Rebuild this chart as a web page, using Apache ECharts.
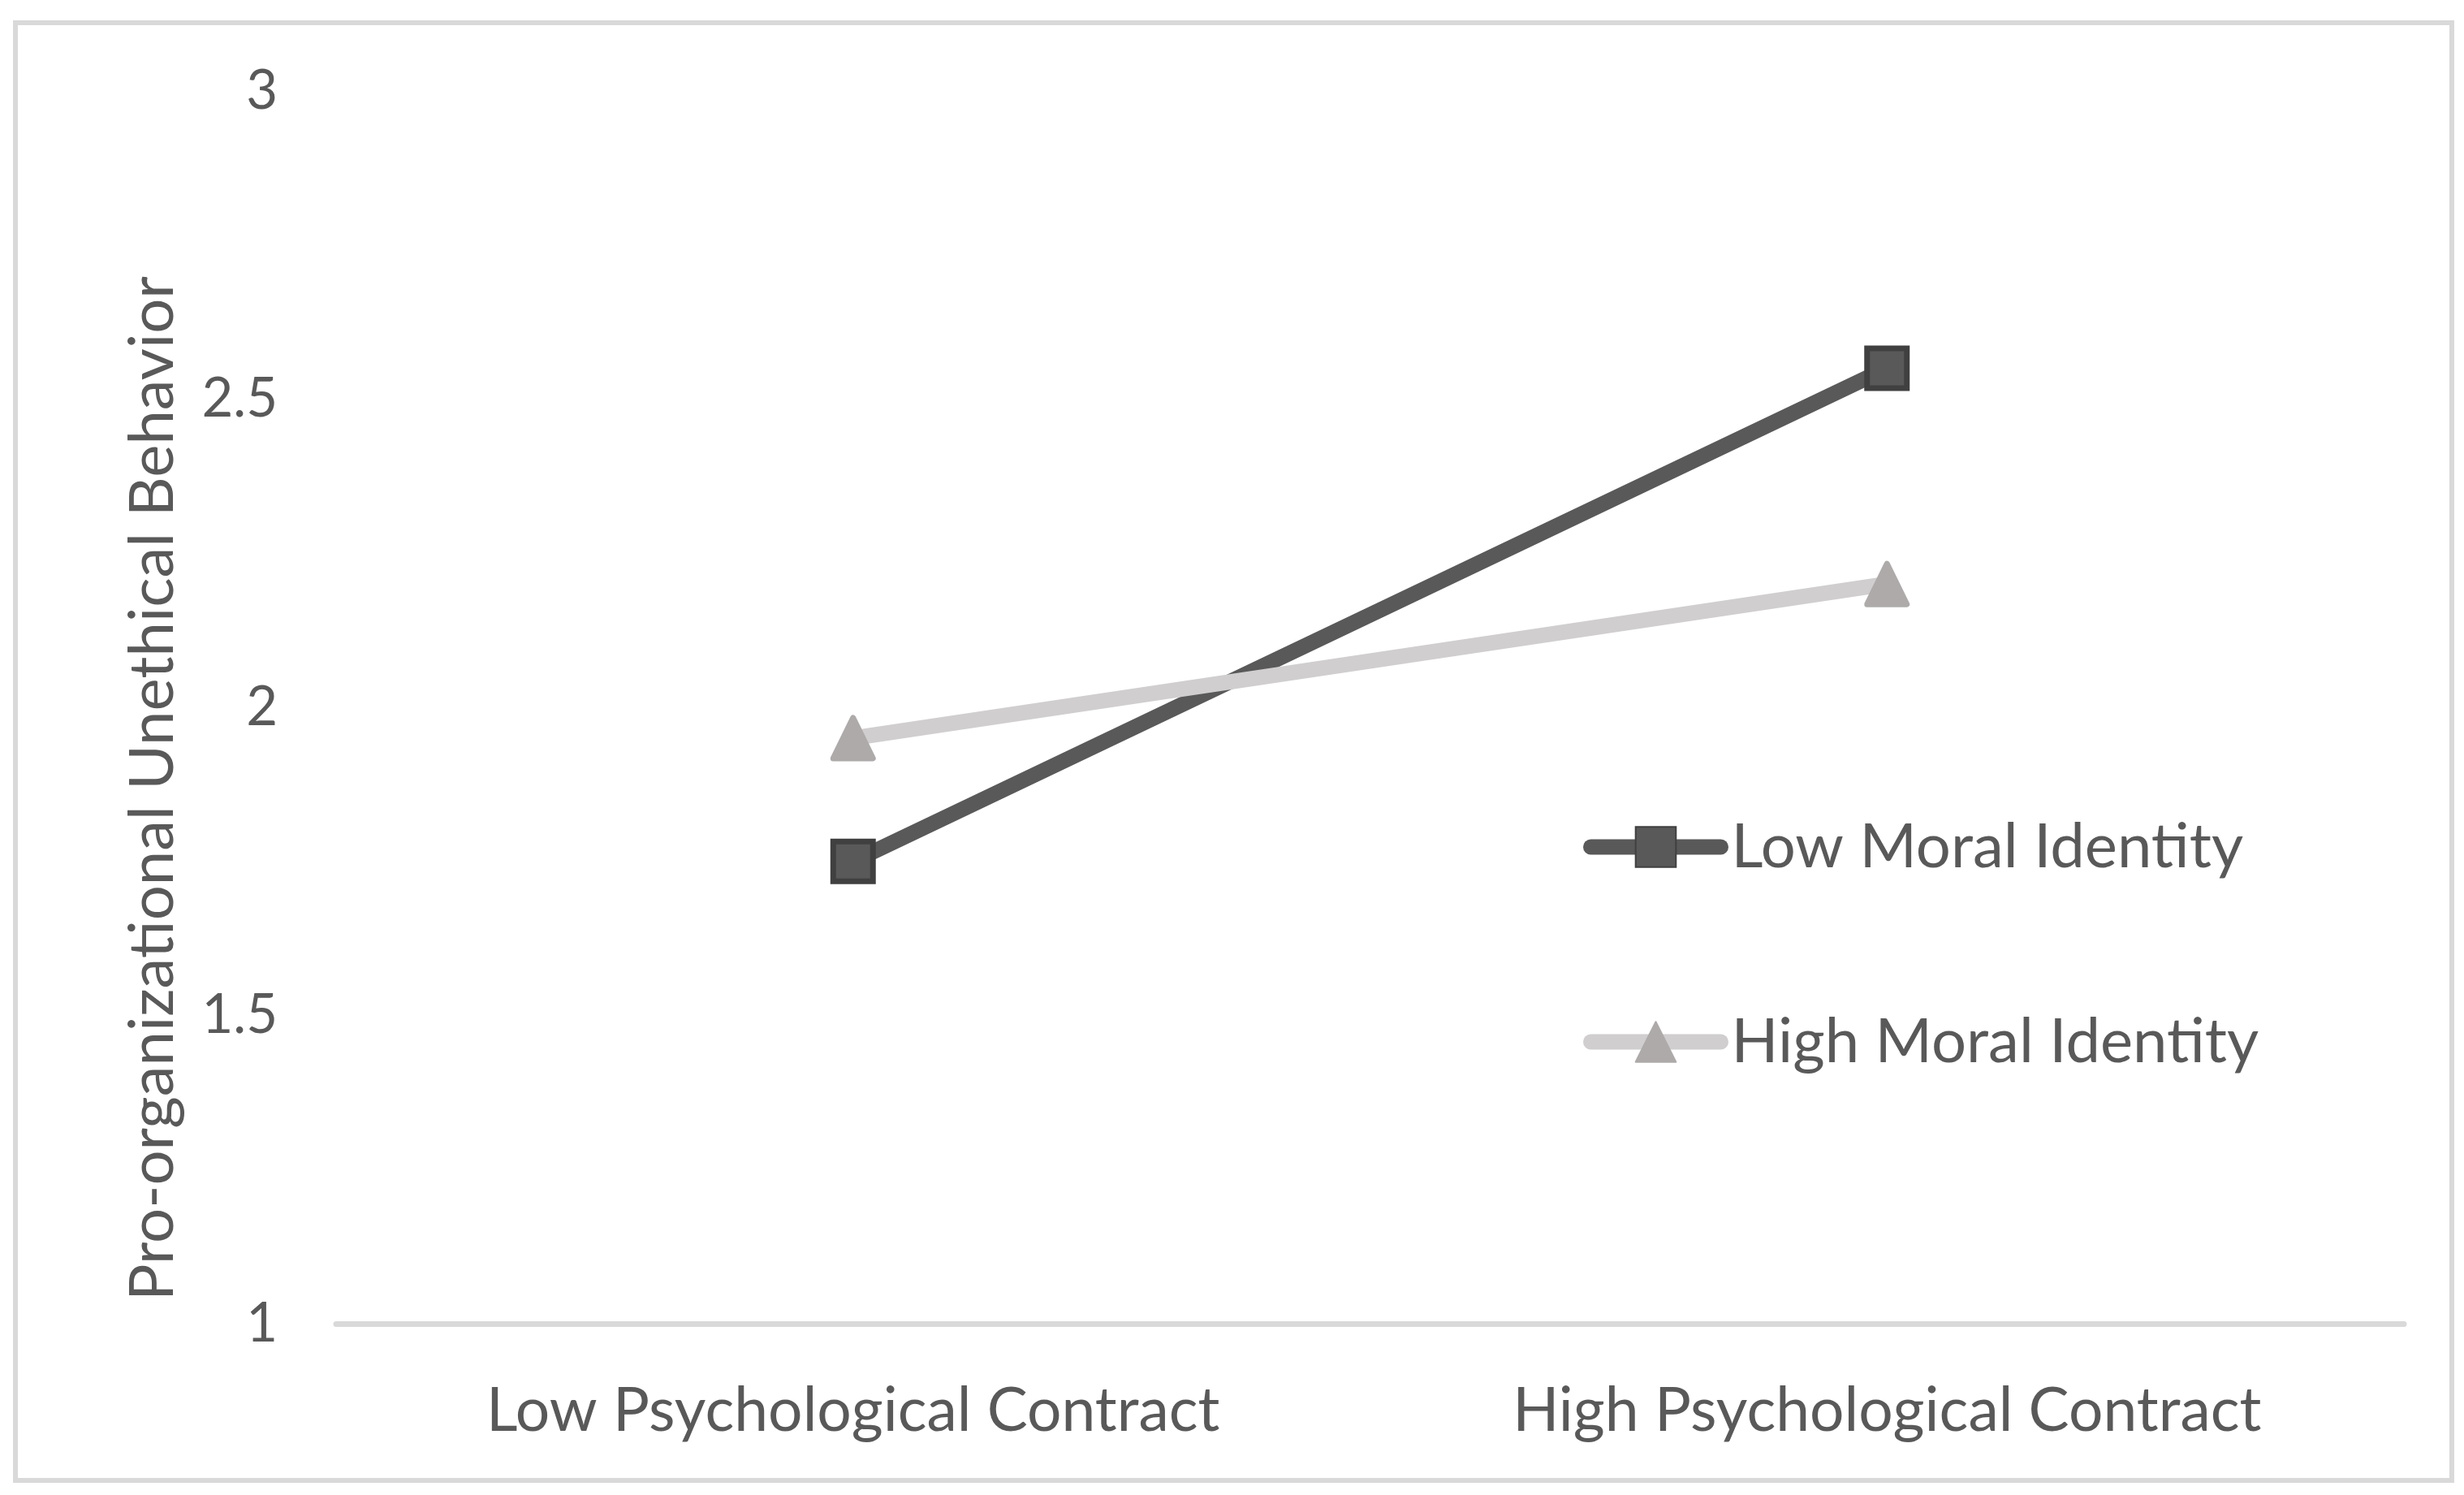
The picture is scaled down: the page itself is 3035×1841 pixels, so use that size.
<!DOCTYPE html>
<html><head><meta charset="utf-8">
<script src="https://cdn.jsdelivr.net/npm/echarts@6/dist/echarts.min.js"></script>
<style>html,body{margin:0;padding:0;background:#fff}#c{width:3035px;height:1841px}</style>
</head><body><div id="c"></div>
<script>
// ---- data ----
const categories = ['Low Psychological Contract', 'High Psychological Contract'];
const seriesNames = ['Low Moral Identity', 'High Moral Identity'];
const lowMoralIdentity = [1.75, 2.55];
const highMoralIdentity = [1.95, 2.2];
const yAxisTitle = 'Pro-organizational Unethical Behavior';
const yMin = 1, yMax = 3, yStep = 0.5;

// ---- chart ----
const FONT = 'Lato';
const TXT = '#595959';
const chart = echarts.init(document.getElementById('c'), null, {renderer: 'canvas'});
chart.setOption({
  backgroundColor: '#ffffff',
  animation: false,
  textStyle: {fontFamily: FONT, color: TXT},
  graphic: [{
    type: 'rect', silent: true, z: -10,
    shape: {x: 19, y: 28, width: 3001, height: 1795},
    style: {fill: 'none', stroke: '#d9d9d9', lineWidth: 6}
  }],
  grid: {left: 414, right: 74, top: 112, bottom: 211, containLabel: false, outerBoundsMode: 'none'},
  legend: {
    orient: 'vertical', left: 1945, top: 1000,
    itemWidth: 160, itemHeight: 62, itemGap: 164,
    data: seriesNames,
    lineStyle: {width: 19, cap: 'round'},
    textStyle: {fontFamily: FONT, fontSize: 76, color: TXT, padding: [0, 0, 0, 8]}
  },
  xAxis: {
    type: 'category', data: categories, boundaryGap: true,
    axisLine: {show: true, lineStyle: {color: '#d9d9d9', width: 7}},
    axisTick: {show: false},
    axisLabel: {fontFamily: FONT, fontSize: 75, color: TXT, margin: 70, lineHeight: 75, interval: 0},
    splitLine: {show: false}
  },
  yAxis: {
    type: 'value', min: yMin, max: yMax, interval: yStep,
    name: yAxisTitle, nameLocation: 'middle', nameRotate: 90, nameGap: 188,
    nameTextStyle: {fontFamily: FONT, fontSize: 76, color: TXT, lineHeight: 76, padding: [0, 200, 0, 0]},
    axisLine: {show: false}, axisTick: {show: false},
    axisLabel: {fontFamily: FONT, fontSize: 67, color: TXT, margin: 72},
    splitLine: {show: false}
  },
  series: [{
    name: seriesNames[0], type: 'line', data: lowMoralIdentity,
    symbol: 'rect', symbolSize: 49,
    lineStyle: {color: '#595959', width: 19, cap: 'round'},
    itemStyle: {color: '#595959', borderColor: '#404040', borderWidth: 7},
    z: 2
  }, {
    name: seriesNames[1], type: 'line', data: highMoralIdentity,
    symbol: 'triangle', symbolSize: [49, 50],
    lineStyle: {color: '#d0cece', width: 19, cap: 'round'},
    itemStyle: {color: '#aeaaaa', borderColor: '#aeaaaa', borderWidth: 7, borderJoin: 'round'},
    z: 3
  }]
});
</script></body></html>
